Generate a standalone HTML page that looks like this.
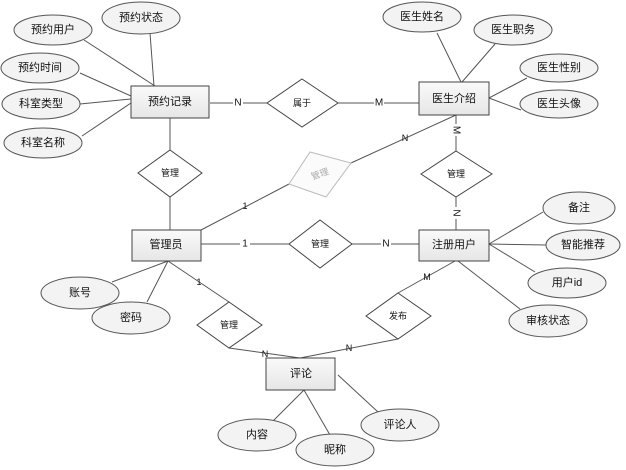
<!DOCTYPE html>
<html><head><meta charset="utf-8"><style>
html,body{margin:0;padding:0;background:#fff;}
svg{display:block;}
text{font-family:"Liberation Sans","Noto Sans CJK SC",sans-serif;font-size:11px;fill:#111;text-anchor:middle;dominant-baseline:central;}
.l{stroke:#555;stroke-width:1;fill:none;}
.e{fill:#f3f3f3;stroke:#555;stroke-width:1;}
.r{fill:url(#g);stroke:#444;stroke-width:1;}
.d{fill:#fff;stroke:#444;stroke-width:1;}
.s{font-size:9px;}
.lb{font-size:10px;}
</style></head><body>
<svg width="626" height="470" viewBox="0 0 626 470" xmlns="http://www.w3.org/2000/svg">
<defs><linearGradient id="g" x1="0" y1="0" x2="0" y2="1"><stop offset="0" stop-color="#fafafa"/><stop offset="1" stop-color="#e6e6e6"/></linearGradient></defs>
<!-- lines -->
<g class="l">
<line x1="84" y1="40" x2="155" y2="86"/>
<line x1="150" y1="33" x2="154" y2="86"/>
<line x1="80" y1="73" x2="131" y2="96"/>
<line x1="80" y1="104" x2="131" y2="99"/>
<line x1="82" y1="136" x2="131" y2="103"/>
<line x1="210" y1="103" x2="267" y2="103"/>
<line x1="338" y1="103" x2="419" y2="103"/>
<line x1="170" y1="118" x2="170" y2="150"/>
<line x1="170" y1="197" x2="170" y2="230"/>
<line x1="201" y1="230" x2="289" y2="184"/>
<line x1="351" y1="163" x2="456" y2="115"/>
<line x1="456" y1="115" x2="456" y2="151"/>
<line x1="456" y1="197" x2="456" y2="230"/>
<line x1="437" y1="33" x2="461" y2="82"/>
<line x1="495" y1="44" x2="462" y2="82"/>
<line x1="527" y1="78" x2="489" y2="98"/>
<line x1="521" y1="110" x2="489" y2="98"/>
<line x1="201" y1="244" x2="289" y2="244"/>
<line x1="352" y1="244" x2="419" y2="244"/>
<line x1="489" y1="244" x2="543" y2="212"/>
<line x1="489" y1="244" x2="546" y2="245"/>
<line x1="489" y1="244" x2="535" y2="272"/>
<line x1="458" y1="261" x2="520" y2="309"/>
<line x1="455" y1="261" x2="398" y2="293"/>
<line x1="168" y1="261" x2="112" y2="282"/>
<line x1="168" y1="261" x2="147" y2="302"/>
<line x1="168" y1="261" x2="229" y2="302"/>
<line x1="229" y1="348" x2="300" y2="358"/>
<line x1="398" y1="339" x2="300" y2="358"/>
<line x1="304" y1="390" x2="273" y2="421"/>
<line x1="304" y1="390" x2="330" y2="435"/>
<line x1="338" y1="375" x2="378" y2="412"/>
</g>
<!-- cardinality labels -->
<g>
<rect x="233" y="97" width="10" height="12" fill="#fff"/><text x="238" y="103" class="lb">N</text>
<rect x="374" y="97" width="10" height="12" fill="#fff"/><text x="379" y="103" class="lb">M</text>
<text x="245" y="206" class="s">1</text>
<text x="405" y="138" class="s">N</text>
<rect x="450" y="124" width="12" height="12" fill="#fff"/><text x="456" y="130" class="lb" transform="rotate(90 456 130)">M</text>
<rect x="450" y="207" width="12" height="12" fill="#fff"/><text x="456" y="213" class="lb" transform="rotate(90 456 213)">N</text>
<rect x="240" y="238" width="10" height="12" fill="#fff"/><text x="245" y="244" class="lb">1</text>
<rect x="381" y="238" width="10" height="12" fill="#fff"/><text x="386" y="244" class="lb">N</text>
<text x="427" y="277" class="s">M</text>
<text x="199" y="282" class="s">1</text>
<text x="265" y="354" class="s">N</text>
<text x="349" y="348" class="s">N</text>
</g>
<!-- diamonds -->
<polygon class="d" points="302,79 338,103 302,127 267,103"/><text x="302" y="103" class="s">属于</text>
<polygon class="d" points="170,150 202,173 170,197 138,173"/><text x="170" y="173" class="s">管理</text>
<polygon points="310,152 351,163 326,197 289,184" fill="#fbfbfb" stroke="#bbb"/><text x="320" y="174" class="s" style="fill:#aaa" transform="rotate(-20 320 174)">管理</text>
<polygon class="d" points="456,151 492,174 456,197 421,174"/><text x="456" y="174" class="s">管理</text>
<polygon class="d" points="320,220 352,244 320,268 289,244"/><text x="320" y="244" class="s">管理</text>
<polygon class="d" points="229,302 262,325 229,348 197,325"/><text x="229" y="325" class="s">管理</text>
<polygon class="d" points="398,293 431,316 398,339 366,316"/><text x="398" y="316" class="s">发布</text>
<!-- entities -->
<rect class="r" x="131" y="86" width="78" height="32"/><text x="170" y="102">预约记录</text>
<rect class="r" x="419" y="82" width="70" height="33"/><text x="454" y="99">医生介绍</text>
<rect class="r" x="132" y="230" width="69" height="31"/><text x="166" y="245">管理员</text>
<rect class="r" x="419" y="230" width="70" height="31"/><text x="454" y="245">注册用户</text>
<rect class="r" x="266" y="358" width="69" height="32"/><text x="301" y="374">评论</text>
<!-- attributes -->
<ellipse class="e" cx="53" cy="30" rx="39" ry="15"/><text x="53" y="30">预约用户</text>
<ellipse class="e" cx="141" cy="18" rx="39" ry="16"/><text x="141" y="18">预约状态</text>
<ellipse class="e" cx="40" cy="68" rx="39" ry="15"/><text x="40" y="68">预约时间</text>
<ellipse class="e" cx="41" cy="104" rx="39" ry="15"/><text x="41" y="104">科室类型</text>
<ellipse class="e" cx="43" cy="143" rx="39" ry="15"/><text x="43" y="143">科室名称</text>
<ellipse class="e" cx="422" cy="17" rx="39" ry="15"/><text x="422" y="17">医生姓名</text>
<ellipse class="e" cx="513" cy="30" rx="39" ry="15"/><text x="513" y="30">医生职务</text>
<ellipse class="e" cx="559" cy="68" rx="39" ry="14"/><text x="559" y="68">医生性别</text>
<ellipse class="e" cx="559" cy="104" rx="39" ry="14"/><text x="559" y="104">医生头像</text>
<ellipse class="e" cx="579" cy="208" rx="36" ry="16"/><text x="579" y="208">备注</text>
<ellipse class="e" cx="583" cy="245" rx="37" ry="15"/><text x="583" y="245">智能推荐</text>
<ellipse class="e" cx="567" cy="283" rx="39" ry="15"/><text x="567" y="283">用户id</text>
<ellipse class="e" cx="548" cy="321" rx="39" ry="16"/><text x="548" y="321">审核状态</text>
<ellipse class="e" cx="80" cy="293" rx="39" ry="16"/><text x="80" y="293">账号</text>
<ellipse class="e" cx="131" cy="318" rx="39" ry="16"/><text x="131" y="318">密码</text>
<ellipse class="e" cx="257" cy="435" rx="39" ry="16"/><text x="257" y="435">内容</text>
<ellipse class="e" cx="335" cy="450" rx="39" ry="16"/><text x="335" y="450">昵称</text>
<ellipse class="e" cx="400" cy="425" rx="39" ry="16"/><text x="400" y="425">评论人</text>
</svg>
</body></html>
